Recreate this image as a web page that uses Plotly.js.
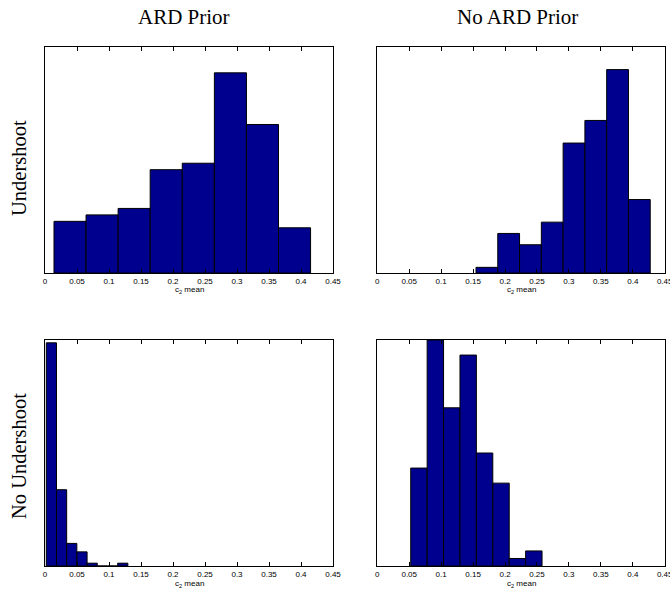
<!DOCTYPE html>
<html>
<head>
<meta charset="utf-8">
<script src="https://cdn.plot.ly/plotly-3.0.1.min.js"></script>
<style>html,body{margin:0;padding:0;background:#fff;}#chart{width:670px;height:592px;}</style>
</head>
<body>
<div id="chart"></div>
<script>
// Bin centers and counts
const ardUnderCenters   = [0.0391, 0.0892, 0.1393, 0.1894, 0.2395, 0.2897, 0.3398, 0.3899];
const ardUnderCounts    = [8, 9, 10, 16, 17, 31, 23, 7];

const noArdUnderCenters = [0.1716, 0.2057, 0.2398, 0.2739, 0.3080, 0.3421, 0.3762, 0.4103];
const noArdUnderCounts  = [1, 7, 5, 9, 23, 27, 36, 13];

const ardNoUnderCenters = [0.0100, 0.0259, 0.0418, 0.0578, 0.0737, 0.0897, 0.1056, 0.1215];
const ardNoUnderCounts  = [79, 27, 8, 5, 1, 0, 0, 1];

const noArdNoUnderCenters = [0.0652, 0.0909, 0.1166, 0.1423, 0.1680, 0.1937, 0.2194, 0.2451];
const noArdNoUnderCounts  = [13, 30, 21, 28, 15, 11, 1, 2];

const tickValues = [0, 0.05, 0.1, 0.15, 0.2, 0.25, 0.3, 0.35, 0.4, 0.45];
const tickLabels = ['0', '0.05', '0.1', '0.15', '0.2', '0.25', '0.3', '0.35', '0.4', '0.45'];

const colTitles = ['ARD Prior', 'No ARD Prior'];
const rowTitles = ['Undershoot', 'No Undershoot'];
const xTitle = 'c<sub>2</sub> mean';

const yMax = [35, 40, 80, 30];

const barColor = '#00008f';

function barTrace(centers, counts, xa, ya) {
  const w = centers[1] - centers[0];
  return {
    type: 'bar', x: centers, y: counts, width: centers.map(() => w),
    xaxis: xa, yaxis: ya,
    marker: {color: barColor, line: {color: '#000', width: 1}},
    hoverinfo: 'skip', showlegend: false
  };
}

const data = [
  barTrace(ardUnderCenters, ardUnderCounts, 'x', 'y'),
  barTrace(noArdUnderCenters, noArdUnderCounts, 'x2', 'y2'),
  barTrace(ardNoUnderCenters, ardNoUnderCounts, 'x3', 'y3'),
  barTrace(noArdNoUnderCenters, noArdNoUnderCounts, 'x4', 'y4')
];

const W = 670, H = 592;
const colDom = [[45 / W, 333 / W], [377.3 / W, 664.7 / W]];
const rowDom = [[1 - 273 / H, 1 - 47 / H], [1 - 566 / H, 1 - 340 / H]];

function xAxis(dom, anchor) {
  return {
    domain: dom, anchor: anchor, range: [0, 0.45], fixedrange: true,
    tickmode: 'array', tickvals: tickValues, ticktext: tickLabels,
    ticks: 'inside', ticklen: 4, tickwidth: 1, tickcolor: '#000',
    showline: true, linecolor: '#000', linewidth: 1, mirror: 'ticks',
    showgrid: false, zeroline: false, ticklabeloverflow: 'allow',
    tickfont: {family: 'Liberation Sans, Arial, sans-serif', size: 8, color: '#000'}
  };
}
function yAxis(dom, anchor, max) {
  return {
    domain: dom, anchor: anchor, range: [0, max], fixedrange: true,
    showticklabels: false, ticks: '',
    showline: true, linecolor: '#000', linewidth: 1, mirror: true,
    showgrid: false, zeroline: false
  };
}

const serifTitle = {family: 'Liberation Serif, Times New Roman, serif', size: 21, color: '#000'};
const serifRow = {family: 'Liberation Serif, Times New Roman, serif', size: 20.5, color: '#000'};
const sans = {family: 'Liberation Sans, Arial, sans-serif', size: 8, color: '#000'};

const annotations = [
  {text: colTitles[0], x: 184 / W, y: 1 - 17 / H, xref: 'paper', yref: 'paper', showarrow: false, font: serifTitle, xanchor: 'center', yanchor: 'middle'},
  {text: colTitles[1], x: 517 / W, y: 1 - 17 / H, xref: 'paper', yref: 'paper', showarrow: false, font: serifTitle, xanchor: 'center', yanchor: 'middle'},
  {text: rowTitles[0], x: 19 / W, y: 1 - 168 / H, xref: 'paper', yref: 'paper', showarrow: false, font: serifRow, textangle: -90, xanchor: 'center', yanchor: 'middle'},
  {text: rowTitles[1], x: 19 / W, y: 1 - 456 / H, xref: 'paper', yref: 'paper', showarrow: false, font: serifRow, textangle: -90, xanchor: 'center', yanchor: 'middle'},
  {text: xTitle, x: 189 / W, y: 1 - 290 / H, xref: 'paper', yref: 'paper', showarrow: false, font: sans, xanchor: 'center', yanchor: 'middle'},
  {text: xTitle, x: 521 / W, y: 1 - 290 / H, xref: 'paper', yref: 'paper', showarrow: false, font: sans, xanchor: 'center', yanchor: 'middle'},
  {text: xTitle, x: 189 / W, y: 1 - 584 / H, xref: 'paper', yref: 'paper', showarrow: false, font: sans, xanchor: 'center', yanchor: 'middle'},
  {text: xTitle, x: 521 / W, y: 1 - 584 / H, xref: 'paper', yref: 'paper', showarrow: false, font: sans, xanchor: 'center', yanchor: 'middle'}
];

const layout = {
  width: W, height: H,
  margin: {l: 0, r: 0, t: 0, b: 0},
  paper_bgcolor: '#fff', plot_bgcolor: '#fff',
  showlegend: false, bargap: 0,
  xaxis: xAxis(colDom[0], 'y'),
  yaxis: yAxis(rowDom[0], 'x', yMax[0]),
  xaxis2: xAxis(colDom[1], 'y2'),
  yaxis2: yAxis(rowDom[0], 'x2', yMax[1]),
  xaxis3: xAxis(colDom[0], 'y3'),
  yaxis3: yAxis(rowDom[1], 'x3', yMax[2]),
  xaxis4: xAxis(colDom[1], 'y4'),
  yaxis4: yAxis(rowDom[1], 'x4', yMax[3]),
  annotations: annotations
};

Plotly.newPlot('chart', data, layout, {staticPlot: true, displayModeBar: false});
</script>
</body>
</html>
